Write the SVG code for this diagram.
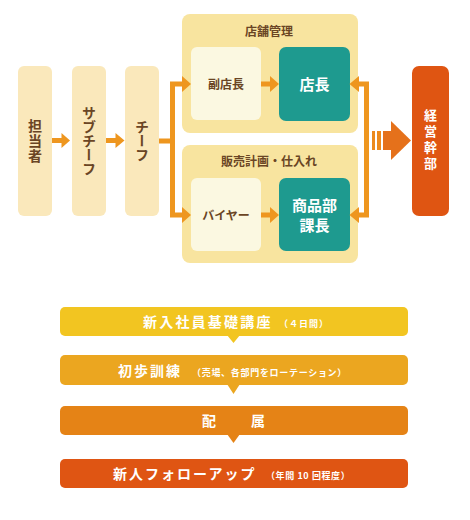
<svg xmlns="http://www.w3.org/2000/svg" width="470" height="520" viewBox="0 0 470 520">
<defs>
<style>
.jp{font-family:"Noto Sans CJK JP","Noto Sans",sans-serif;font-weight:bold}
.brown{fill:#6a4524}
.white{fill:#ffffff}
.vt{writing-mode:vertical-rl;text-anchor:middle}
.col{fill:#fae8bb}
.grp{fill:#f8e49f}
.inner{fill:#fbf8e1}
.teal{fill:#1e9a8f}
.arr{fill:#ee961f}
.arrs{fill:none;stroke:#ee961f;stroke-width:5}
</style>
</defs>
<rect width="470" height="520" fill="#ffffff"/>

<g id="tantousha">
<rect class="col" x="18" y="66" width="34" height="150" rx="6"/>
<text class="jp brown vt" x="35" y="141" font-size="14" letter-spacing="1">担当者</text>
</g>
<g id="subchief">
<rect class="col" x="72" y="66" width="34" height="150" rx="6"/>
<text class="jp brown vt" x="89" y="141" font-size="14">サブチーフ</text>
</g>
<g id="chief">
<rect class="col" x="125" y="66" width="34" height="150" rx="6"/>
<text class="jp brown vt" x="142" y="141" font-size="14">チーフ</text>
</g>

<g id="group-tenpo">
<rect class="grp" x="182" y="14" width="176" height="119" rx="8"/>
<text class="jp brown" x="269" y="35.5" font-size="12" text-anchor="middle">店舗管理</text>
</g>
<g id="group-hanbai">
<rect class="grp" x="182" y="145" width="176" height="118" rx="8"/>
<text class="jp brown" x="269" y="166" font-size="12" text-anchor="middle">販売計画・仕入れ</text>
</g>

<g id="fukutencho">
<rect class="inner" x="191" y="47" width="70" height="73" rx="6"/>
<text class="jp brown" x="226" y="88.5" font-size="12" text-anchor="middle">副店長</text>
</g>
<g id="tencho">
<rect class="teal" x="279" y="47" width="71" height="74" rx="7"/>
<text class="jp white" x="314.5" y="89.5" font-size="15" text-anchor="middle">店長</text>
</g>
<g id="buyer">
<rect class="inner" x="191" y="178" width="70" height="73" rx="6"/>
<text class="jp brown" x="226" y="219.5" font-size="12" text-anchor="middle">バイヤー</text>
</g>
<g id="shohinbu-kacho">
<rect class="teal" x="279" y="178" width="71" height="73" rx="7"/>
<text class="jp white" x="314.5" y="211" font-size="15" text-anchor="middle">商品部</text>
<text class="jp white" x="314.5" y="231" font-size="15" text-anchor="middle">課長</text>
</g>

<g id="keiei-kanbu">
<rect x="412" y="66" width="37" height="150" rx="7" fill="#df5512"/>
<text class="jp white vt" x="430.5" y="141" font-size="13" letter-spacing="3">経営幹部</text>
</g>

<g id="connectors">
<rect class="arr" x="52" y="138" width="10" height="5"/>
<polygon class="arr" points="61.5,133 70,140.5 61.5,148"/>
<rect class="arr" x="106" y="138" width="10" height="5"/>
<polygon class="arr" points="115.5,133 124.5,140.5 115.5,148"/>
<path class="arrs" d="M159,141 H172.5 M183,84 H172.5 V215 H183"/>
<polygon class="arr" points="182,76 191,84 182,92"/>
<polygon class="arr" points="182,207 191,215 182,223"/>
<rect class="arr" x="261" y="81.5" width="10" height="5"/>
<polygon class="arr" points="270,76 279,84 270,92"/>
<rect class="arr" x="261" y="212.5" width="10" height="5"/>
<polygon class="arr" points="270,207 279,215 270,223"/>
<path class="arrs" d="M358,84 H366.5 V215 H358"/>
<polygon class="arr" points="359,76 349.5,84 359,92"/>
<polygon class="arr" points="359,207 349.5,215 359,223"/>
<rect x="372" y="131" width="3" height="19" fill="#ec8a1e"/>
<rect x="377" y="131" width="4" height="19" fill="#ec8a1e"/>
<rect x="383" y="131" width="9" height="19" fill="#e5711b"/>
<polygon points="391,121 411,140.5 391,160" fill="#e5711b"/>
</g>

<g id="step1">
<rect x="60" y="307" width="348" height="29" rx="5" fill="#f2c521"/>
<polygon points="227,335 240,335 233.5,343" fill="#f2c521"/>
<text class="jp white" y="327" font-size="14" letter-spacing="2.2"><tspan x="143">新入社員基礎講座</tspan><tspan x="279" font-size="9" letter-spacing="1">（４日間）</tspan></text>
</g>
<g id="step2">
<rect x="60" y="355" width="348" height="30" rx="5" fill="#eba620"/>
<polygon points="227,384 240,384 233.5,394" fill="#eba620"/>
<text class="jp white" y="376" font-size="14" letter-spacing="2"><tspan x="118">初歩訓練</tspan><tspan x="192" font-size="9" letter-spacing="0.7">（売場、各部門をローテーション）</tspan></text>
</g>
<g id="step3">
<rect x="60" y="406" width="348" height="29" rx="5" fill="#e58316"/>
<polygon points="227,434 240,434 233.5,443" fill="#e58316"/>
<text class="jp white" y="425.5" font-size="14"><tspan x="202">配</tspan><tspan x="251">属</tspan></text>
</g>
<g id="step4">
<rect x="60" y="459" width="348" height="29" rx="5" fill="#df5513"/>
<text class="jp white" y="479" font-size="14" letter-spacing="2"><tspan x="113">新人フォローアップ</tspan><tspan x="266" font-size="9" letter-spacing="0.6">（年間 10 回程度）</tspan></text>
</g>
</svg>
